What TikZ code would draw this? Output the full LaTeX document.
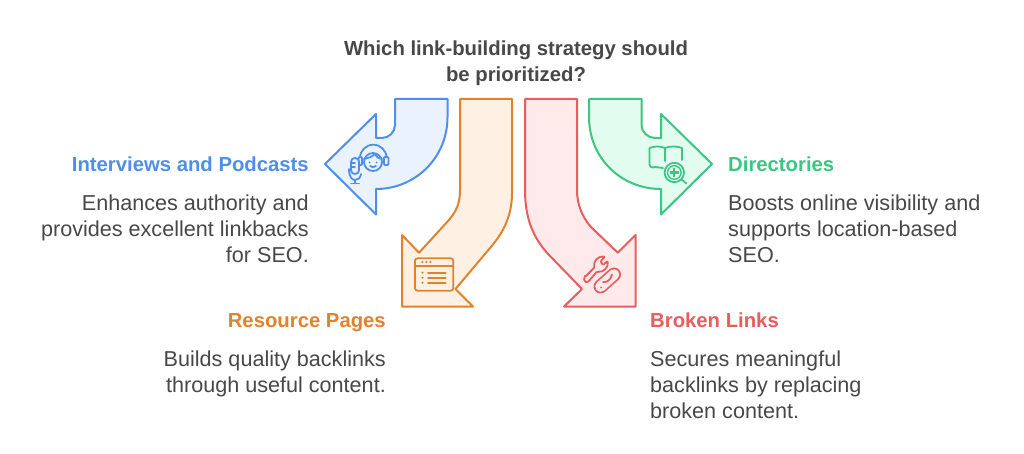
\documentclass[tikz,border=0pt]{standalone}
\usepackage{fontspec}
\setmainfont{Liberation Sans}
\definecolor{tx}{HTML}{484848}
\definecolor{bl}{HTML}{4F8FEA}\definecolor{blf}{HTML}{EAF2FE}
\definecolor{ora}{HTML}{E0832F}\definecolor{oraf}{HTML}{FEF0E2}
\definecolor{rd}{HTML}{E85D5D}\definecolor{rdf}{HTML}{FEEAEA}
\definecolor{gr}{HTML}{3CC583}\definecolor{grf}{HTML}{E2FDF0}
\begin{document}
\begin{tikzpicture}[x=1pt,y=-1pt,line join=round,
  arr/.style={line width=2pt},
  ico/.style={line width=1.8pt,line cap=round},
  body/.style={text=tx,font=\fontsize{21.6}{26}\selectfont,inner sep=0pt},
  head/.style={font=\fontsize{20.3}{26}\selectfont\bfseries,inner sep=0pt},
  ttl/.style={text=tx,font=\fontsize{20.3}{26}\selectfont\bfseries,inner sep=0pt,align=center}]
\useasboundingbox (0,0) rectangle (1024,454);
\fill[white] (0,0) rectangle (1024,454);
% arrows
\draw[arr,draw=bl,fill=blf] (395,99) -- (447.5,99) -- (447.5,117) .. controls (447.5,158) and (415,189) .. (376,189) -- (376,214.5) -- (325,164) -- (376,114) -- (376,138) -- (382,138) .. controls (389,138) and (395,132) .. (395,125) -- cycle;
\draw[arr,draw=ora,fill=oraf] (460,99) -- (512,99) -- (512,193) .. controls (512,215) and (504,232) .. (490,248) -- (455.5,289) -- (473,306.5) -- (402,306.5) -- (402,235) -- (419,252.7) -- (448,221) .. controls (456,212) and (460,204) .. (460,190) -- cycle;
\draw[arr,draw=rd,fill=rdf] (525,99) -- (577,99) -- (577,190) .. controls (577,204) and (582,217) .. (591,227) -- (617.7,252.7) -- (635.5,235) -- (635.5,306.5) -- (564,306.5) -- (582,289) -- (549,255) .. controls (533,238) and (525,218) .. (525,190) -- cycle;
\draw[arr,draw=gr,fill=grf] (589,99) -- (641.5,99) -- (641.5,125) .. controls (641.5,132) and (648,138) .. (655,138) -- (661,138) -- (661,114) -- (712,164) -- (661,214.5) -- (661,189) .. controls (621,189) and (589,158) .. (589,117) -- cycle;
% headset icon
\begin{scope}[ico,draw=bl]
\draw (373,162) circle (9);
\draw (364,159) .. controls (368,158) and (372,157) .. (375,154) .. controls (376,157) and (379,159) .. (382,159);
\draw (360,158) arc (180:360:13.3);
\draw[rounded corners=1pt,fill=blf] (358.5,157) rectangle (362,165);
\draw[rounded corners=1pt,fill=blf] (384,157) rectangle (388.5,165);
\fill[bl] (369.5,162.5) circle (1) (376.5,162.5) circle (1);
\draw (370,166) .. controls (372,167.5) and (374,167.5) .. (376,166);
\draw[rounded corners=3.8pt,fill=blf] (351,158) rectangle (359,174);
\draw (351.5,163) -- (355,163) (351.5,167) -- (355,167);
\draw (349,169) .. controls (349,177) and (352,180) .. (355,180) .. controls (358,180) and (360.5,178) .. (361,174);
\draw (355,180) -- (355,183.5) (351,183.5) -- (359,183.5);
\end{scope}
% book icon
\begin{scope}[ico,draw=gr]
\draw (663,168) -- (655,167) -- (653,167.5) .. controls (650,167.5) and (649.5,166) .. (649.5,164) -- (649.5,148) .. controls (655,146) and (660,146) .. (665,148) .. controls (670,146) and (677,146) .. (682,148) -- (682,160);
\draw (665,148) -- (665,161);
\draw (674.3,172.5) circle (9.7);
\draw[line width=1.4pt] (674.3,172.5) circle (6.8);
\draw[line width=2.2pt,line cap=butt] (674.3,168) -- (674.3,177) (669.8,172.5) -- (678.8,172.5);
\draw (681.5,179.5) -- (686.5,183.5);
\end{scope}
% browser icon
\begin{scope}[ico,draw=ora]
\draw[rounded corners=2.5pt] (415,258.3) rectangle (453.3,290.7);
\draw (415,266) -- (453.3,266);
\foreach \x in {422.3,426.3,430.3} \fill[ora] (\x,262) circle (1.2);
\foreach \y in {272.7,277.7,282.7} {\fill[ora] (422.5,\y) circle (1.2); \draw (428,\y) -- (445.7,\y);}
\end{scope}
% tools icon
\begin{scope}[ico,draw=rd]
\draw[rounded corners=1pt] (585,277) -- (594.5,267.5) .. controls (593,261) and (598,256) .. (605,256.5) -- (600.5,261.5) -- (603,265) -- (607.5,261) .. controls (609,267) and (603,273) .. (597,271.5) -- (588.5,281.5) .. controls (586,283) and (583,280) .. (585,277) -- cycle;
\draw[line width=14pt] (600.5,286.5) -- (614,274.5);
\draw[line width=10.6pt,draw=rdf] (600.5,286.5) -- (614,274.5);
\draw (603,282) .. controls (606,283) and (611,280) .. (612,274.5);
\fill[rd] (601,287.5) circle (1);
\end{scope}
% text
\node[ttl,anchor=base] (t) at (516,82) {Which link-building strategy should\\be prioritized?};
\node[head,text=bl,anchor=base east] (h1) at (309,171.5) {Interviews and Podcasts};
\node[body,anchor=base east,align=right] (b1) at (309,262.5) {Enhances authority and\\provides excellent linkbacks\\for SEO.};
\node[head,text=gr,anchor=base west] (h2) at (728,171.5) {Directories};
\node[body,anchor=base west,align=left] (b2) at (728,262.5) {Boosts online visibility and\\supports location-based\\SEO.};
\node[head,text=ora,anchor=base east] (h3) at (386,327) {Resource Pages};
\node[body,anchor=base east,align=right] (b3) at (386,392.5) {Builds quality backlinks\\through useful content.};
\node[head,text=rd,anchor=base west] (h4) at (650,327) {Broken Links};
\node[body,anchor=base west,align=left] (b4) at (650,418.5) {Secures meaningful\\backlinks by replacing\\broken content.};
\end{tikzpicture}
\end{document}
